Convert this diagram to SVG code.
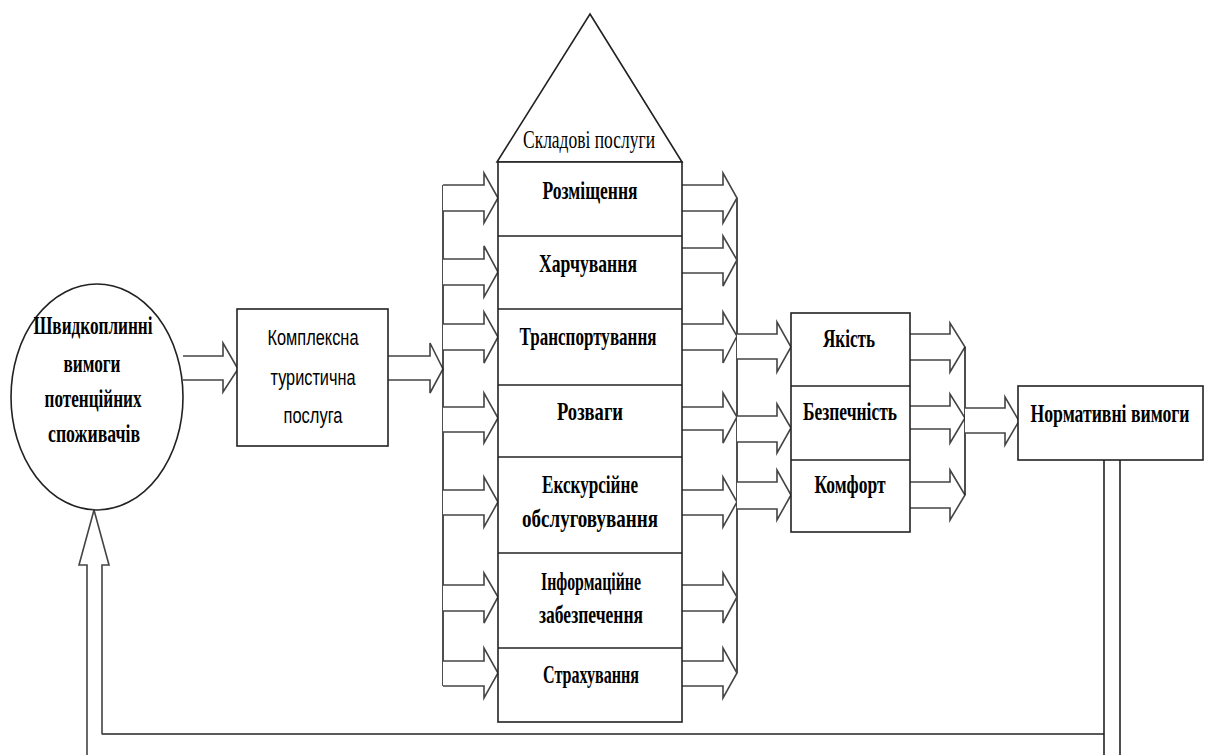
<svg xmlns="http://www.w3.org/2000/svg" width="1205" height="755" viewBox="0 0 1205 755">
<style>
.box{fill:#fff;stroke:#222;stroke-width:1.6}
.ln{fill:none;stroke:#222;stroke-width:1.6}
.arr{fill:#fff;stroke:#444;stroke-width:1.6;stroke-linejoin:miter}
.b{font-family:"Liberation Serif","Times New Roman",serif;font-weight:bold;font-size:26px;fill:#000;text-anchor:middle}
.r{font-family:"Liberation Serif","Times New Roman",serif;font-size:25px;fill:#000;text-anchor:middle}
.s{font-family:"Liberation Sans",Arial,sans-serif;font-size:22px;fill:#000;text-anchor:middle}
</style>
<rect width="1205" height="755" fill="#fff"/>

<g id="connectors">
  <polyline class="arr" points="183,356 223,356 223,343 238,369 223,392 223,380 183,380"/>
  <polyline class="arr" points="388,356 430,356 430,343 443,369 430,393 430,380 388,380"/>
  <line class="ln" x1="443" y1="185" x2="443" y2="686"/>
  <polyline class="arr" points="443,185 484,185 484,173 498,198 484,223 484,211 443,211"/>
  <polyline class="arr" points="443,259 484,259 484,246 498,272 484,297 484,285 443,285"/>
  <polyline class="arr" points="443,324 484,324 484,312 498,337 484,363 484,350 443,350"/>
  <polyline class="arr" points="443,407 484,407 484,393 498,418 484,443 484,432 443,432"/>
  <polyline class="arr" points="443,490 484,490 484,477 498,502 484,527 484,515 443,515"/>
  <polyline class="arr" points="443,585 484,585 484,573 498,597 484,623 484,611 443,611"/>
  <polyline class="arr" points="443,661 484,661 484,648 498,673 484,698 484,686 443,686"/>
  <line class="ln" x1="737" y1="198" x2="737" y2="673"/>
  <polyline class="arr" points="682,185 723,185 723,173 737,198 723,223 723,211 682,211"/>
  <polyline class="arr" points="682,248 723,248 723,236 737,260 723,286 723,273 682,273"/>
  <polyline class="arr" points="682,324 723,324 723,312 737,336 723,363 723,350 682,350"/>
  <polyline class="arr" points="682,407 723,407 723,393 737,417 723,443 723,430 682,430"/>
  <polyline class="arr" points="682,490 723,490 723,477 737,502 723,527 723,515 682,515"/>
  <polyline class="arr" points="682,585 723,585 723,573 737,597 723,623 723,611 682,611"/>
  <polyline class="arr" points="682,661 723,661 723,648 737,673 723,698 723,686 682,686"/>
  <polyline class="arr" points="737,334 777,334 777,322 791,347 777,372 777,359 737,359"/>
  <polyline class="arr" points="737,416 777,416 777,404 791,428 777,453 777,442 737,442"/>
  <polyline class="arr" points="737,482 777,482 777,470 791,495 777,520 777,509 737,509"/>
  <polyline class="arr" points="910,334 950,334 950,323 965,347 950,372 950,360 910,360"/>
  <polyline class="arr" points="910,406 950,406 950,394 965,418 950,443 950,429 910,429"/>
  <polyline class="arr" points="910,482 950,482 950,470 965,495 950,520 950,508 910,508"/>
  <line class="ln" x1="965" y1="347" x2="965" y2="495"/>
  <polyline class="arr" points="965,408 1005,408 1005,397 1019,421 1005,445 1005,433 965,433"/>
  <line class="ln" x1="1104" y1="460" x2="1104" y2="755"/>
  <line class="ln" x1="1120" y1="460" x2="1120" y2="755"/>
  <line class="ln" x1="87" y1="734" x2="1104" y2="734"/>
  <polyline class="arr" points="87,755 87,565 79,565 94,510 109,565 102,565 102,734"/>
</g>

<g id="consumer">
  <ellipse class="box" cx="97" cy="397" rx="86" ry="113"/>
  <text class="b" x="93" y="334" textLength="119" lengthAdjust="spacingAndGlyphs">Швидкоплинні</text>
  <text class="b" x="92" y="372" textLength="57" lengthAdjust="spacingAndGlyphs">вимоги</text>
  <text class="b" x="93" y="407" textLength="97" lengthAdjust="spacingAndGlyphs">потенційних</text>
  <text class="b" x="94" y="442" textLength="92" lengthAdjust="spacingAndGlyphs">споживачів</text>
</g>

<g id="complex">
  <rect class="box" x="237" y="309" width="151" height="137"/>
  <text class="s" x="313" y="345" textLength="91" lengthAdjust="spacingAndGlyphs">Комплексна</text>
  <text class="s" x="313" y="385" textLength="85" lengthAdjust="spacingAndGlyphs">туристична</text>
  <text class="s" x="313" y="423" textLength="59" lengthAdjust="spacingAndGlyphs">послуга</text>
</g>

<g id="components-title">
  <polygon class="box" points="590,14 682,162 497,162"/>
  <text class="r" x="589" y="148" textLength="132" lengthAdjust="spacingAndGlyphs">Складові послуги</text>
</g>

<g id="components">
  <rect class="box" x="498" y="162" width="184" height="560"/>
  <line class="ln" x1="498" y1="236" x2="682" y2="236"/>
  <line class="ln" x1="498" y1="309" x2="682" y2="309"/>
  <line class="ln" x1="498" y1="385" x2="682" y2="385"/>
  <line class="ln" x1="498" y1="457" x2="682" y2="457"/>
  <line class="ln" x1="498" y1="553" x2="682" y2="553"/>
  <line class="ln" x1="498" y1="648" x2="682" y2="648"/>
</g>
<g id="accommodation"><text class="b" x="590" y="199" textLength="95" lengthAdjust="spacingAndGlyphs">Розміщення</text></g>
<g id="catering"><text class="b" x="588" y="272" textLength="98" lengthAdjust="spacingAndGlyphs">Харчування</text></g>
<g id="transport"><text class="b" x="588" y="345" textLength="137" lengthAdjust="spacingAndGlyphs">Транспортування</text></g>
<g id="entertainment"><text class="b" x="590" y="420" textLength="66" lengthAdjust="spacingAndGlyphs">Розваги</text></g>
<g id="excursion">
  <text class="b" x="590" y="493" textLength="96" lengthAdjust="spacingAndGlyphs">Екскурсійне</text>
  <text class="b" x="590" y="527" textLength="136" lengthAdjust="spacingAndGlyphs">обслуговування</text>
</g>
<g id="information">
  <text class="b" x="591" y="590" textLength="100" lengthAdjust="spacingAndGlyphs">Інформаційне</text>
  <text class="b" x="591" y="623" textLength="104" lengthAdjust="spacingAndGlyphs">забезпечення</text>
</g>
<g id="insurance"><text class="b" x="591" y="683" textLength="96" lengthAdjust="spacingAndGlyphs">Страхування</text></g>

<g id="quality-group">
  <rect class="box" x="791" y="313" width="119" height="219"/>
  <line class="ln" x1="791" y1="386" x2="910" y2="386"/>
  <line class="ln" x1="791" y1="460" x2="910" y2="460"/>
</g>
<g id="quality"><text class="b" x="849" y="347" textLength="52" lengthAdjust="spacingAndGlyphs">Якість</text></g>
<g id="safety"><text class="b" x="850" y="420" textLength="94" lengthAdjust="spacingAndGlyphs">Безпечність</text></g>
<g id="comfort"><text class="b" x="850" y="493" textLength="71" lengthAdjust="spacingAndGlyphs">Комфорт</text></g>

<g id="normative">
  <rect class="box" x="1018" y="386" width="185" height="74"/>
  <text class="b" transform="translate(1110,422) scale(0.66,1)" x="0" y="0" textLength="241" lengthAdjust="spacingAndGlyphs">Нормативні вимоги</text>
</g>
</svg>
